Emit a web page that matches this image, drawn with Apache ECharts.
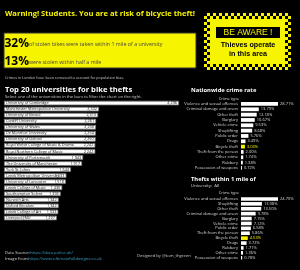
<!DOCTYPE html>
<html>
<head>
<meta charset="utf-8">
<script src="https://cdn.jsdelivr.net/npm/echarts@6/dist/echarts.min.js"></script>
<style>
  html, body { margin: 0; padding: 0; background: #000; }
  #main { width: 300px; height: 270px; }
</style>
</head>
<body>
<div id="main"></div>
<script>
// top 20 universities (thefts within 1 mile)
const universities = [
  'University of Cambridge', 'Manchester Metropolitan University', 'University of Bristol',
  'Cardiff University', 'University of Wales', 'De Montfort University', 'University of Oxford',
  'Royal Welsh College of Music & Drama', 'Royal Northern College of Music', 'University of Portsmouth',
  'The University of Manchester', 'York St. Johns', 'Leeds Metropolitan University',
  'University of Lancaster', 'Leeds College of Music', 'Southampton Solent', 'Norwich Arts',
  'Oxford Brookes', 'Leeds College of Art', 'Liverpool JMU'
];
const uniThefts = [4296, 2332, 2310, 2261, 2258, 2254, 2250, 2242, 2242, 1943,
  1917, 1644, 1533, 1518, 1430, 1393, 1342, 1342, 1333, 1297];

// nationwide crime rate (%)
const nationTypes = ['Violence and sexual offences', 'Criminal damage and arson', 'Other theft',
  'Burglary', 'Vehicle crime', 'Shoplifting', 'Public order', 'Drugs', 'Bicycle theft',
  'Theft from the person', 'Other crime', 'Robbery', 'Possession of weapons'];
const nationRates = [28.71, 13.79, 12.18, 10.67, 9.53, 8.68, 5.76, 3.49, 3.03, 2.00, 1.74, 1.38, 0.72];

// thefts within 1 mile of university (%)
const nearTypes = ['Violence and sexual offences', 'Shoplifting', 'Other theft',
  'Criminal damage and arson', 'Burglary', 'Vehicle crime', 'Public order',
  'Theft from the person', 'Bicycle theft', 'Drugs', 'Robbery', 'Other crime', 'Possession of weapons'];
const nearRates = [24.70, 13.98, 13.50, 9.78, 7.15, 7.12, 6.58, 5.86, 4.53, 3.72, 1.71, 1.36, 0.78];

const YEL = '#f7f400';
const FONT = '"Open Sans", sans-serif';

function crimeData(types, rates) {
  return rates.map((v, i) => types[i] === 'Bicycle theft'
    ? { value: v, itemStyle: { color: YEL }, label: { color: YEL } }
    : v);
}

function txt(x, y, text, size, opts) {
  opts = opts || {};
  return {
    type: 'text', x: x, y: y, z: 10,
    style: {
      text: text, fill: opts.color || '#fff',
      font: (opts.weight || 'normal') + ' ' + size + 'px ' + (opts.family || FONT),
      align: opts.align || 'left', verticalAlign: 'middle'
    }
  };
}

// checkered warning sign
const cell = 3, cols = 29, rows = 19, sx = 204, sy = 13;
const checks = [{ type: 'rect', shape: { x: sx, y: sy, width: cols * cell, height: rows * cell }, style: { fill: YEL } }];
for (let r = 0; r < rows; r++) {
  for (let c = 0; c < cols; c++) {
    const ring = r < 2 || r >= rows - 2 || c < 2 || c >= cols - 2;
    if (ring && (r + c) % 2 === 0) {
      checks.push({ type: 'rect', shape: { x: sx + c * cell, y: sy + r * cell, width: cell, height: cell }, style: { fill: '#000' } });
    }
  }
}

const graphics = [
  txt(5, 14, 'Warning! Students. You are at risk of bicycle theft!', 7.6, { color: YEL, weight: 'bold' }),
  { type: 'rect', shape: { x: 4, y: 33, width: 192, height: 35 }, style: { fill: YEL, stroke: '#333', lineWidth: 1 } },
  txt(4.5, 44, '32%', 12, { color: '#000', weight: 'bold' }),
  txt(29, 44.5, 'of stolen bikes were taken within 1 mile of a university', 5.3, { color: '#444' }),
  txt(4.5, 62, '13%', 12, { color: '#000', weight: 'bold' }),
  txt(29, 62.5, 'were stolen within half a mile', 5.3, { color: '#444' }),
  txt(5, 77.5, 'Crimes in London have been removed to account for population bias.', 3.7, { color: '#ccc' }),
  { type: 'group', children: checks },
  { type: 'rect', shape: { x: 216, y: 27, width: 64, height: 11 }, style: { fill: '#000' } },
  txt(248, 32.7, 'BE AWARE !', 8.5, { color: YEL, align: 'center', family: '"Liberation Sans", sans-serif' }),
  txt(248, 45, 'Thieves operate', 7.2, { color: '#000', weight: 'bold', align: 'center', family: '"Liberation Sans", sans-serif' }),
  txt(248, 54, 'in this area', 7.2, { color: '#000', weight: 'bold', align: 'center', family: '"Liberation Sans", sans-serif' }),
  txt(5, 90, 'Top 20 universities for bike thefts', 7.6, { weight: 'bold' }),
  txt(5, 96.5, 'Select one of the universities in the bars to filter the chart on the right.', 4.2, { color: '#ccc' }),
  txt(191, 90, 'Nationwide crime rate', 5.8, { weight: 'bold' }),
  txt(239, 99, 'Crime type', 4, { color: '#ddd', align: 'right' }),
  txt(191, 179, 'Thefts within 1 mile of', 5.8, { weight: 'bold' }),
  txt(191, 186, 'University:  All', 4.3, { color: '#ddd' }),
  txt(239, 193, 'Crime type', 4, { color: '#ddd', align: 'right' }),
  txt(5, 253, 'Data Source:', 4.2, { color: '#ddd' }),
  txt(30, 253, 'https://data.police.uk/', 4.2, { color: '#3a9fc8' }),
  txt(5, 259, 'Image from:', 4.2, { color: '#ddd' }),
  txt(28, 259, 'https://www.ultimatefulldesigns.co.uk', 4.2, { color: '#3a9fc8' }),
  txt(137, 256, 'Designed by @tom_thgreen', 4.2, { color: '#ccc' })
];

const chart = echarts.init(document.getElementById('main'));
const option = {
  backgroundColor: '#000',
  animation: false,
  textStyle: { fontFamily: FONT },
  graphic: graphics,
  grid: [
    { left: 4, top: 100, width: 175, height: 121 },
    { left: 241, top: 101.3, width: 37, height: 69.3 },
    { left: 241, top: 196.5, width: 37, height: 63.7 }
  ],
  xAxis: [
    { gridIndex: 0, type: 'value', min: 0, max: 4296, show: false },
    { gridIndex: 1, type: 'value', min: 0, max: 28.71, show: false },
    { gridIndex: 2, type: 'value', min: 0, max: 24.70, show: false }
  ],
  yAxis: [
    { gridIndex: 0, type: 'category', data: universities, inverse: true, show: false },
    {
      gridIndex: 1, type: 'category', data: nationTypes, inverse: true,
      axisLine: { show: false }, axisTick: { show: false },
      axisLabel: { fontSize: 4, color: '#ddd', margin: 3, interval: 0, hideOverlap: false }
    },
    {
      gridIndex: 2, type: 'category', data: nearTypes, inverse: true,
      axisLine: { show: false }, axisTick: { show: false },
      axisLabel: { fontSize: 4, color: '#ddd', margin: 3, interval: 0, hideOverlap: false }
    }
  ],
  series: [
    {
      type: 'bar', xAxisIndex: 0, yAxisIndex: 0, data: uniThefts, barWidth: 4.6,
      itemStyle: { color: '#fff', borderColor: '#777', borderWidth: 0.8 },
      label: {
        show: true, position: 'insideLeft', distance: 2, fontSize: 3.8, color: '#111',
        formatter: p => p.name
      }
    },
    {
      type: 'bar', xAxisIndex: 0, yAxisIndex: 0, data: uniThefts, barWidth: 4.6, barGap: '-100%',
      itemStyle: { color: 'rgba(0,0,0,0)' },
      label: {
        show: true, position: 'insideRight', distance: 2, fontSize: 3.8, color: '#111',
        formatter: p => p.value.toLocaleString('en-US')
      }
    },
    {
      type: 'bar', xAxisIndex: 1, yAxisIndex: 1, data: crimeData(nationTypes, nationRates), barWidth: 3.8,
      itemStyle: { color: '#fff' },
      label: { show: true, position: 'right', distance: 2, fontSize: 4, color: '#ddd', formatter: p => p.value.toFixed(2) + '%' }
    },
    {
      type: 'bar', xAxisIndex: 2, yAxisIndex: 2, data: crimeData(nearTypes, nearRates), barWidth: 3.6,
      itemStyle: { color: '#fff' },
      label: { show: true, position: 'right', distance: 2, fontSize: 4, color: '#ddd', formatter: p => p.value.toFixed(2) + '%' }
    }
  ]
};
chart.setOption(option);
</script>
</body>
</html>
